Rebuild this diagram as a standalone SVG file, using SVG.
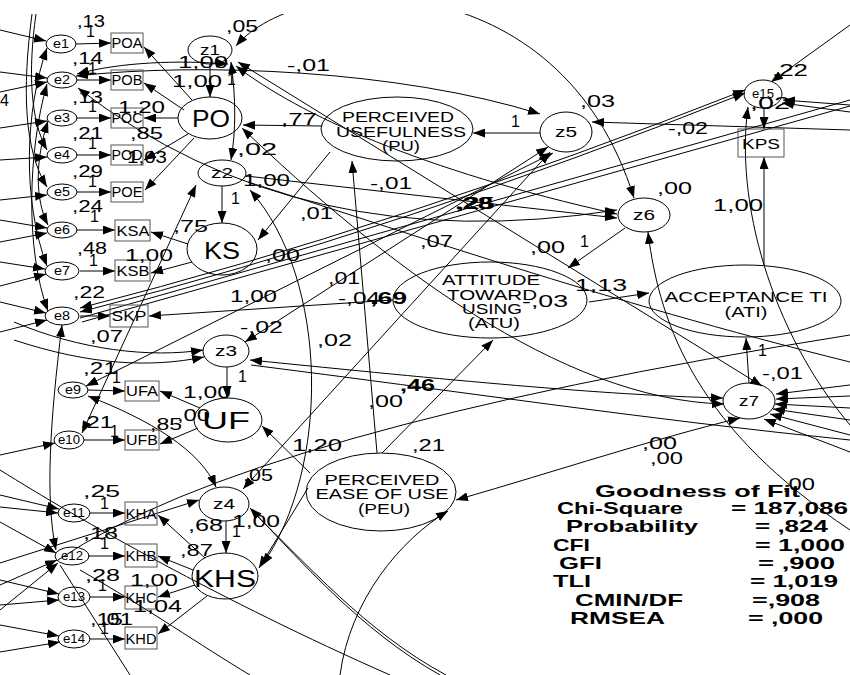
<svg xmlns="http://www.w3.org/2000/svg" width="850" height="675" viewBox="0 0 850 675">
<defs>
<marker id="a" markerWidth="12" markerHeight="9" refX="12" refY="4.5" orient="auto-start-reverse" markerUnits="userSpaceOnUse"><path d="M0,0 L12,4.5 L0,9 z" fill="#000"/></marker>
<clipPath id="clip"><rect x="0" y="14" width="850" height="661"/></clipPath>
<style>
.c{fill:none;stroke:#000;stroke-width:1}
.ar{marker-end:url(#a)}
.ab{marker-end:url(#a);marker-start:url(#a)}
.n{fill:none;stroke:#000;stroke-width:1}
.r{fill:none;stroke:#555;stroke-width:1}
text{font-family:"Liberation Sans",Arial,sans-serif;fill:#000}
.nl{font-size:15px;text-anchor:middle}
.el{font-size:12px;text-anchor:middle}
.zl{font-size:14px;text-anchor:middle}
.big{font-size:24px;text-anchor:middle}
.lt{font-size:15px;text-anchor:middle}
.v{font-size:16px}
.b{font-weight:bold}
.g{font-size:17px;font-weight:bold}
</style>
</defs>
<rect width="850" height="675" fill="#fff"/>
<g id="connectors" clip-path="url(#clip)">
<path class="c ar" d="M76,44 L111,43"/>
<path class="c ar" d="M77,80 L111,80"/>
<path class="c ar" d="M77,118 L111,118"/>
<path class="c ar" d="M77,155 L111,155"/>
<path class="c ar" d="M77,192 L111,192"/>
<path class="c ar" d="M77,230 L115,230"/>
<path class="c ar" d="M80,271 L115,271"/>
<path class="c ar" d="M80,316 L110,316"/>
<path class="c ar" d="M88,390 L125,391"/>
<path class="c ar" d="M84,440 L125,440"/>
<path class="c ar" d="M90,513 L125,513"/>
<path class="c ar" d="M88,556 L125,556"/>
<path class="c ar" d="M90,597 L125,597"/>
<path class="c ar" d="M90,639 L125,639"/>
<path class="c ar" d="M192,100 L144,47"/>
<path class="c ar" d="M184,110 L144,83"/>
<path class="c ar" d="M178,118 L144,118"/>
<path class="c ar" d="M188,134 L144,160"/>
<path class="c ar" d="M194,138 L145,190"/>
<path class="c ar" d="M210,64 L210,97"/>
<path class="c ar" d="M222,186 L222,223"/>
<path class="c ar" d="M188,244 L151,232"/>
<path class="c ar" d="M192,262 L151,273"/>
<path class="c ar" d="M227,367 L227,398"/>
<path class="c ar" d="M200,408 L160,391"/>
<path class="c ar" d="M198,428 L160,444"/>
<path class="c ar" d="M226,521 L226,553"/>
<path class="c ar" d="M205,558 L158,515"/>
<path class="c ar" d="M193,570 L158,556"/>
<path class="c ar" d="M195,585 L158,597"/>
<path class="c ar" d="M207,596 L158,634"/>
<path class="c ar" d="M393,300 L149,316"/>
<path class="c ar" d="M322,126 L243,125"/>
<path class="c ar" d="M330,152 L258,240"/>
<path class="c ar" d="M540,133 L473,133"/>
<path class="c ar" d="M377,453 L352,161"/>
<path class="c ar" d="M382,453 L493,340"/>
<path class="c ar" d="M310,473 L262,426"/>
<path class="c ar" d="M308,488 L259,568"/>
<path class="c ar" d="M625,228 L568,268"/>
<path class="c ar" d="M589,302 L649,293"/>
<path class="c ar" d="M749,383 L746,338"/>
<path class="c ar" d="M764,265 L764,157"/>
<path class="c ar" d="M764,108 L764,129"/>
<path class="c ab" d="M236,46 C300,-30 560,-40 634,198"/>
<path class="c ab" d="M76,76 C200,62 400,70 540,114"/>
<path class="c ab" d="M228,64 C180,60 120,62 77,74"/>
<path class="c ab" d="M78,88 Q300,260 617,210"/>
<path class="c ab" d="M236,66 C300,115 420,170 617,214"/>
<path class="c ar" d="M246,176 L617,218"/>
<path class="c ab" d="M231,62 C236,100 236,130 231,160"/>
<path class="c" d="M248,182 C400,230 600,300 850,362"/>
<path class="c ab" d="M245,342 L548,147"/>
<path class="c ab" d="M86,386 L553,153"/>
<path class="c ab" d="M80,312 Q400,230 745,93"/>
<path class="c ab" d="M80,308 Q400,226 745,90"/>
<path class="c" d="M80,318 L850,100"/>
<path class="c" d="M82,322 L850,106"/>
<path class="c ar" d="M850,130 L592,122"/>
<path class="c ar" d="M850,105 L783,100"/>
<path class="c ar" d="M850,112 L782,103"/>
<path class="c ar" d="M850,25 L771,82"/>
<path class="c ar" d="M850,425 C770,330 735,200 748,107"/>
<path class="c ar" d="M850,530 C700,430 660,330 648,232"/>
<path class="c ar" d="M850,385 L776,394"/>
<path class="c ar" d="M850,396 L776,399"/>
<path class="c ar" d="M850,408 L775,404"/>
<path class="c ar" d="M850,420 L773,409"/>
<path class="c ar" d="M850,435 L770,414"/>
<path class="c ar" d="M850,452 L764,419"/>
<path class="c ab" d="M238,62 L762,386"/>
<path class="c ab" d="M250,360 C450,380 600,395 723,398"/>
<path class="c" d="M251,365 C450,390 650,420 850,440"/>
<path class="c ab" d="M242,128 C380,260 560,400 724,404"/>
<path class="c ab" d="M740,418 C650,440 560,470 456,500"/>
<path class="c ar" d="M340,675 C350,600 400,540 448,511"/>
<path class="c ar" d="M440,675 C360,630 300,560 250,508"/>
<path class="c" d="M446,675 C366,632 306,563 253,512"/>
<path class="c ar" d="M14,322 C80,350 150,358 203,350"/>
<path class="c ar" d="M14,340 C90,365 150,368 204,357"/>
<path class="c ab" d="M88,396 C150,420 200,450 216,487"/>
<path class="c ab" d="M550,152 L243,489"/>
<path class="c" d="M58,560 Q250,430 850,335"/>
<path class="c ar" d="M0,563 L199,500"/>
<path class="c ab" d="M196,185 L82,433"/>
<path class="c ab" d="M250,190 C330,280 330,470 262,565"/>
<path class="c ab" d="M62,325 C50,420 45,500 56,550"/>
<path class="c" d="M80,570 C150,610 200,645 250,675"/>
<path class="c" d="M60,565 L130,675"/>
<path class="c" d="M0,470 C80,520 220,600 390,675"/>
<path class="c ar" d="M36,14 C28,70 30,120 47,150"/>
<path class="c ar" d="M32,14 C22,90 24,150 47,187"/>
<path class="c ab" d="M47,48 C25,110 22,200 47,266"/>
<path class="c ab" d="M47,84 C28,150 25,250 48,311"/>
<path class="c ab" d="M48,121 C35,160 35,200 48,225"/>
<path class="c ar" d="M0,30 L46,41"/>
<path class="c ar" d="M0,72 L47,78"/>
<path class="c ar" d="M0,92 L47,82"/>
<path class="c ar" d="M0,128 L47,121"/>
<path class="c ar" d="M0,160 L47,157"/>
<path class="c ar" d="M0,200 L47,195"/>
<path class="c ar" d="M0,220 L47,228"/>
<path class="c ar" d="M0,242 L47,233"/>
<path class="c ar" d="M0,262 L45,269"/>
<path class="c ar" d="M0,286 L46,274"/>
<path class="c ar" d="M0,302 L46,313"/>
<path class="c ar" d="M0,332 L47,320"/>
<path class="c ar" d="M0,455 L55,443"/>
<path class="c ar" d="M0,495 L59,509"/>
<path class="c ar" d="M0,507 L58,513"/>
<path class="c ar" d="M0,522 L56,553"/>
<path class="c ar" d="M0,585 L57,560"/>
<path class="c ar" d="M0,610 L58,563"/>
<path class="c ar" d="M0,580 L59,594"/>
<path class="c ar" d="M0,605 L59,600"/>
<path class="c ar" d="M0,625 L59,636"/>
<path class="c ar" d="M0,652 L60,642"/>
</g>
<g id="e1"><ellipse class="n" cx="61" cy="44" rx="15" ry="9"/><text class="el" x="61" y="48" textLength="16" lengthAdjust="spacingAndGlyphs">e1</text></g>
<g id="e2"><ellipse class="n" cx="62" cy="80" rx="15" ry="8"/><text class="el" x="62" y="84" textLength="16" lengthAdjust="spacingAndGlyphs">e2</text></g>
<g id="e3"><ellipse class="n" cx="62" cy="118" rx="15" ry="8"/><text class="el" x="62" y="122" textLength="16" lengthAdjust="spacingAndGlyphs">e3</text></g>
<g id="e4"><ellipse class="n" cx="62" cy="155" rx="15" ry="8"/><text class="el" x="62" y="159" textLength="16" lengthAdjust="spacingAndGlyphs">e4</text></g>
<g id="e5"><ellipse class="n" cx="62" cy="192" rx="15" ry="8"/><text class="el" x="62" y="196" textLength="16" lengthAdjust="spacingAndGlyphs">e5</text></g>
<g id="e6"><ellipse class="n" cx="62" cy="230" rx="15" ry="8"/><text class="el" x="62" y="234" textLength="16" lengthAdjust="spacingAndGlyphs">e6</text></g>
<g id="e7"><ellipse class="n" cx="62" cy="271" rx="17" ry="9"/><text class="el" x="62" y="275" textLength="16" lengthAdjust="spacingAndGlyphs">e7</text></g>
<g id="e8"><ellipse class="n" cx="62" cy="316" rx="17" ry="9"/><text class="el" x="62" y="320" textLength="16" lengthAdjust="spacingAndGlyphs">e8</text></g>
<g id="e9"><ellipse class="n" cx="73" cy="390" rx="15" ry="8"/><text class="el" x="73" y="394" textLength="16" lengthAdjust="spacingAndGlyphs">e9</text></g>
<g id="e10"><ellipse class="n" cx="69" cy="440" rx="15" ry="9"/><text class="el" x="69" y="444" textLength="22" lengthAdjust="spacingAndGlyphs">e10</text></g>
<g id="e11"><ellipse class="n" cx="74" cy="513" rx="16" ry="9"/><text class="el" x="74" y="517" textLength="22" lengthAdjust="spacingAndGlyphs">e11</text></g>
<g id="e12"><ellipse class="n" cx="72" cy="556" rx="17" ry="9"/><text class="el" x="72" y="560" textLength="22" lengthAdjust="spacingAndGlyphs">e12</text></g>
<g id="e13"><ellipse class="n" cx="74" cy="597" rx="16" ry="10"/><text class="el" x="74" y="601" textLength="22" lengthAdjust="spacingAndGlyphs">e13</text></g>
<g id="e14"><ellipse class="n" cx="74" cy="639" rx="16" ry="9"/><text class="el" x="74" y="643" textLength="22" lengthAdjust="spacingAndGlyphs">e14</text></g>
<g id="e15"><ellipse class="n" cx="763" cy="94" rx="19" ry="14"/><text class="el" x="763" y="98" textLength="22" lengthAdjust="spacingAndGlyphs">e15</text></g>
<g id="POA"><rect class="r" x="111" y="33" width="32" height="20"/><text class="nl" x="127" y="48" textLength="31" lengthAdjust="spacingAndGlyphs">POA</text></g>
<g id="POB"><rect class="r" x="111" y="70" width="32" height="20"/><text class="nl" x="127" y="85" textLength="31" lengthAdjust="spacingAndGlyphs">POB</text></g>
<g id="POC"><rect class="r" x="111" y="108" width="32" height="20"/><text class="nl" x="127" y="123" textLength="31" lengthAdjust="spacingAndGlyphs">POC</text></g>
<g id="POD"><rect class="r" x="111" y="145" width="32" height="20"/><text class="nl" x="127" y="160" textLength="31" lengthAdjust="spacingAndGlyphs">POD</text></g>
<g id="POE"><rect class="r" x="111" y="182" width="32" height="20"/><text class="nl" x="127" y="197" textLength="31" lengthAdjust="spacingAndGlyphs">POE</text></g>
<g id="KSA"><rect class="r" x="115" y="220" width="35" height="21"/><text class="nl" x="133" y="236" textLength="33" lengthAdjust="spacingAndGlyphs">KSA</text></g>
<g id="KSB"><rect class="r" x="115" y="260" width="35" height="21"/><text class="nl" x="133" y="276" textLength="33" lengthAdjust="spacingAndGlyphs">KSB</text></g>
<g id="SKP"><rect class="r" x="110" y="305" width="38" height="22"/><text class="nl" x="129" y="321" textLength="35" lengthAdjust="spacingAndGlyphs">SKP</text></g>
<g id="UFA"><rect class="r" x="125" y="381" width="34" height="20"/><text class="nl" x="142" y="396" textLength="32" lengthAdjust="spacingAndGlyphs">UFA</text></g>
<g id="UFB"><rect class="r" x="125" y="430" width="34" height="20"/><text class="nl" x="142" y="445" textLength="32" lengthAdjust="spacingAndGlyphs">UFB</text></g>
<g id="KHA"><rect class="r" x="125" y="502" width="32" height="23"/><text class="nl" x="141" y="519" textLength="31" lengthAdjust="spacingAndGlyphs">KHA</text></g>
<g id="KHB"><rect class="r" x="125" y="544" width="32" height="23"/><text class="nl" x="141" y="561" textLength="31" lengthAdjust="spacingAndGlyphs">KHB</text></g>
<g id="KHC"><rect class="r" x="125" y="586" width="32" height="23"/><text class="nl" x="141" y="603" textLength="31" lengthAdjust="spacingAndGlyphs">KHC</text></g>
<g id="KHD"><rect class="r" x="125" y="627" width="32" height="22"/><text class="nl" x="141" y="644" textLength="31" lengthAdjust="spacingAndGlyphs">KHD</text></g>
<g id="KPS"><rect class="r" x="738" y="129" width="46" height="28"/><text class="nl" x="761" y="149" font-size="16" textLength="38" lengthAdjust="spacingAndGlyphs">KPS</text></g>
<g id="z1"><ellipse class="n" cx="210" cy="50" rx="22" ry="14"/><text class="zl" x="210" y="55" textLength="20" lengthAdjust="spacingAndGlyphs">z1</text></g>
<g id="z2"><ellipse class="n" cx="222" cy="173" rx="24" ry="13"/><text class="zl" x="222" y="178" textLength="22" lengthAdjust="spacingAndGlyphs">z2</text></g>
<g id="z3"><ellipse class="n" cx="226" cy="351" rx="23" ry="16"/><text class="zl" x="226" y="356" textLength="22" lengthAdjust="spacingAndGlyphs">z3</text></g>
<g id="z4"><ellipse class="n" cx="224" cy="504" rx="25" ry="17"/><text class="zl" x="224" y="509" textLength="22" lengthAdjust="spacingAndGlyphs">z4</text></g>
<g id="z5"><ellipse class="n" cx="566" cy="132" rx="26" ry="20"/><text class="zl" x="566" y="137" textLength="22" lengthAdjust="spacingAndGlyphs">z5</text></g>
<g id="z6"><ellipse class="n" cx="644" cy="215" rx="26" ry="17"/><text class="zl" x="644" y="220" textLength="22" lengthAdjust="spacingAndGlyphs">z6</text></g>
<g id="z7"><ellipse class="n" cx="749" cy="401" rx="26" ry="18"/><text class="zl" x="749" y="406" textLength="20" lengthAdjust="spacingAndGlyphs">z7</text></g>
<g id="PO"><ellipse class="n" cx="210" cy="118" rx="32" ry="21"/><text class="big" x="211" y="127" textLength="38" lengthAdjust="spacingAndGlyphs">PO</text></g>
<g id="KS"><ellipse class="n" cx="222" cy="249" rx="35" ry="26"/><text class="big" x="222" y="259" textLength="36" lengthAdjust="spacingAndGlyphs">KS</text></g>
<g id="UF"><ellipse class="n" cx="228" cy="420" rx="34" ry="22"/><text class="big" x="226" y="429" font-size="25" textLength="48" lengthAdjust="spacingAndGlyphs">UF</text></g>
<g id="KHS"><ellipse class="n" cx="225" cy="576" rx="33" ry="23"/><text class="big" x="225" y="587" font-size="26" textLength="62" lengthAdjust="spacingAndGlyphs">KHS</text></g>
<g id="PU"><ellipse class="n" cx="397" cy="129" rx="76" ry="32"/><text class="lt" x="398" y="122" textLength="112" lengthAdjust="spacingAndGlyphs">PERCEIVED</text><text class="lt" x="401" y="137" textLength="130" lengthAdjust="spacingAndGlyphs">USEFULNESS</text><text class="lt" x="401" y="151" textLength="38" lengthAdjust="spacingAndGlyphs">(PU)</text></g>
<g id="ATU"><ellipse class="n" cx="490" cy="300" rx="97" ry="38"/><text class="lt" x="491" y="285" textLength="98" lengthAdjust="spacingAndGlyphs">ATTITUDE</text><text class="lt" x="492" y="300" textLength="90" lengthAdjust="spacingAndGlyphs">TOWARD</text><text class="lt" x="492" y="314" textLength="60" lengthAdjust="spacingAndGlyphs">USING</text><text class="lt" x="494" y="328" textLength="52" lengthAdjust="spacingAndGlyphs">(ATU)</text></g>
<g id="PEU"><ellipse class="n" cx="381" cy="492" rx="75" ry="39"/><text class="lt" x="382" y="485" textLength="115" lengthAdjust="spacingAndGlyphs">PERCEIVED</text><text class="lt" x="382" y="499" textLength="133" lengthAdjust="spacingAndGlyphs">EASE OF USE</text><text class="lt" x="384" y="514" textLength="52" lengthAdjust="spacingAndGlyphs">(PEU)</text></g>
<g id="ATI"><ellipse class="n" cx="745" cy="301" rx="96" ry="36"/><text class="lt" x="746" y="302" font-size="16" textLength="163" lengthAdjust="spacingAndGlyphs">ACCEPTANCE TI</text><text class="lt" x="746" y="317" font-size="16" textLength="43" lengthAdjust="spacingAndGlyphs">(ATI)</text></g>
<g id="labels" class="v">
<text x="77" y="27" textLength="28" lengthAdjust="spacingAndGlyphs">,13</text>
<text x="86" y="37">1</text>
<text x="226" y="32" textLength="32" lengthAdjust="spacingAndGlyphs">,05</text>
<text x="178" y="68" textLength="50" lengthAdjust="spacingAndGlyphs">1,00</text>
<text x="72" y="64" textLength="31" lengthAdjust="spacingAndGlyphs">,14</text>
<text x="88" y="74">1</text>
<text x="172" y="87" textLength="50" lengthAdjust="spacingAndGlyphs">1,00</text>
<text x="227" y="85">1</text>
<text x="0" y="106">4</text>
<text x="72" y="103" textLength="31" lengthAdjust="spacingAndGlyphs">,13</text>
<text x="88" y="112">1</text>
<text x="118" y="113" textLength="47" lengthAdjust="spacingAndGlyphs">1,20</text>
<text x="72" y="139" textLength="31" lengthAdjust="spacingAndGlyphs">,21</text>
<text x="88" y="149">1</text>
<text x="130" y="139" textLength="33" lengthAdjust="spacingAndGlyphs">,85</text>
<text x="127" y="163" textLength="40" lengthAdjust="spacingAndGlyphs">1,03</text>
<text x="237" y="155" textLength="40" lengthAdjust="spacingAndGlyphs">,02</text>
<text x="72" y="177" textLength="31" lengthAdjust="spacingAndGlyphs">,29</text>
<text x="88" y="187">1</text>
<text x="243" y="186" textLength="47" lengthAdjust="spacingAndGlyphs">1,00</text>
<text x="231" y="204">1</text>
<text x="72" y="212" textLength="31" lengthAdjust="spacingAndGlyphs">,24</text>
<text x="90" y="222">1</text>
<text x="173" y="232" textLength="35" lengthAdjust="spacingAndGlyphs">,75</text>
<text x="77" y="254" textLength="30" lengthAdjust="spacingAndGlyphs">,48</text>
<text x="89" y="266">1</text>
<text x="125" y="261" textLength="48" lengthAdjust="spacingAndGlyphs">1,00</text>
<text x="265" y="261" textLength="35" lengthAdjust="spacingAndGlyphs">,00</text>
<text x="73" y="298" textLength="32" lengthAdjust="spacingAndGlyphs">,22</text>
<text x="230" y="302" textLength="47" lengthAdjust="spacingAndGlyphs">1,00</text>
<text x="240" y="333" textLength="43" lengthAdjust="spacingAndGlyphs">-,02</text>
<text x="90" y="342" textLength="33" lengthAdjust="spacingAndGlyphs">,07</text>
<text x="83" y="374" textLength="34" lengthAdjust="spacingAndGlyphs">,21</text>
<text x="112" y="383">1</text>
<text x="238" y="382">1</text>
<text x="183" y="398" textLength="48" lengthAdjust="spacingAndGlyphs">1,00</text>
<text x="80" y="428" textLength="33" lengthAdjust="spacingAndGlyphs">,21</text>
<text x="110" y="437">1</text>
<text x="150" y="430" textLength="32" lengthAdjust="spacingAndGlyphs">,85</text>
<text x="177" y="421" textLength="33" lengthAdjust="spacingAndGlyphs">,00</text>
<text x="243" y="481" textLength="30" lengthAdjust="spacingAndGlyphs">,05</text>
<text x="83" y="497" textLength="37" lengthAdjust="spacingAndGlyphs">,25</text>
<text x="100" y="509">1</text>
<text x="188" y="531" textLength="35" lengthAdjust="spacingAndGlyphs">,68</text>
<text x="232" y="527" textLength="48" lengthAdjust="spacingAndGlyphs">1,00</text>
<text x="232" y="537">1</text>
<text x="83" y="539" textLength="35" lengthAdjust="spacingAndGlyphs">,18</text>
<text x="100" y="549">1</text>
<text x="180" y="556" textLength="33" lengthAdjust="spacingAndGlyphs">,87</text>
<text x="85" y="581" textLength="35" lengthAdjust="spacingAndGlyphs">,28</text>
<text x="98" y="591">1</text>
<text x="130" y="586" textLength="48" lengthAdjust="spacingAndGlyphs">1,00</text>
<text x="133" y="612" textLength="49" lengthAdjust="spacingAndGlyphs">1,04</text>
<text x="90" y="625" textLength="33" lengthAdjust="spacingAndGlyphs">,15</text>
<text x="100" y="625" textLength="33" lengthAdjust="spacingAndGlyphs">,01</text>
<text x="100" y="634">1</text>
<text x="287" y="71" textLength="43" lengthAdjust="spacingAndGlyphs">-,01</text>
<text x="281" y="125" textLength="36" lengthAdjust="spacingAndGlyphs">,77</text>
<text x="511" y="127">1</text>
<text x="370" y="189" textLength="42" lengthAdjust="spacingAndGlyphs">-,01</text>
<text class="b" x="455" y="209" textLength="38" lengthAdjust="spacingAndGlyphs">,28</text>
<text x="457" y="209" textLength="38" lengthAdjust="spacingAndGlyphs">,25</text>
<text x="300" y="219" textLength="33" lengthAdjust="spacingAndGlyphs">,01</text>
<text x="420" y="247" textLength="33" lengthAdjust="spacingAndGlyphs">,07</text>
<text x="530" y="253" textLength="35" lengthAdjust="spacingAndGlyphs">,00</text>
<text x="328" y="284" textLength="32" lengthAdjust="spacingAndGlyphs">,01</text>
<text x="338" y="304" textLength="42" lengthAdjust="spacingAndGlyphs">-,04</text>
<text class="b" x="370" y="304" textLength="37" lengthAdjust="spacingAndGlyphs">,69</text>
<text x="522" y="307" textLength="46" lengthAdjust="spacingAndGlyphs">-,03</text>
<text x="317" y="346" textLength="35" lengthAdjust="spacingAndGlyphs">,02</text>
<text class="b" x="400" y="391" textLength="35" lengthAdjust="spacingAndGlyphs">,46</text>
<text x="368" y="407" textLength="35" lengthAdjust="spacingAndGlyphs">,00</text>
<text x="292" y="451" textLength="50" lengthAdjust="spacingAndGlyphs">1,20</text>
<text x="412" y="451" textLength="33" lengthAdjust="spacingAndGlyphs">,21</text>
<text x="580" y="107" textLength="35" lengthAdjust="spacingAndGlyphs">,03</text>
<text x="772" y="76" textLength="36" lengthAdjust="spacingAndGlyphs">,22</text>
<text x="750" y="109" textLength="40" lengthAdjust="spacingAndGlyphs">,02</text>
<text x="668" y="134" textLength="40" lengthAdjust="spacingAndGlyphs">-,02</text>
<text x="657" y="194" textLength="35" lengthAdjust="spacingAndGlyphs">,00</text>
<text x="713" y="211" textLength="50" lengthAdjust="spacingAndGlyphs">1,00</text>
<text x="580" y="247">1</text>
<text x="575" y="291" textLength="52" lengthAdjust="spacingAndGlyphs">1,13</text>
<text x="758" y="356">1</text>
<text x="762" y="379" textLength="41" lengthAdjust="spacingAndGlyphs">-,01</text>
<text x="642" y="449" textLength="35" lengthAdjust="spacingAndGlyphs">,00</text>
<text x="650" y="464" textLength="33" lengthAdjust="spacingAndGlyphs">,00</text>
<text x="782" y="490" textLength="33" lengthAdjust="spacingAndGlyphs">,00</text>
</g>
<g id="fit" class="g">
<text x="595" y="497" textLength="205" lengthAdjust="spacingAndGlyphs">Goodness of Fit</text>
<text x="557" y="514" textLength="126" lengthAdjust="spacingAndGlyphs">Chi-Square</text>
<text x="731" y="514" textLength="117" lengthAdjust="spacingAndGlyphs">= 187,086</text>
<text x="566" y="532" textLength="132" lengthAdjust="spacingAndGlyphs">Probability</text>
<text x="755" y="532" textLength="73" lengthAdjust="spacingAndGlyphs">= ,824</text>
<text x="553" y="551" textLength="37" lengthAdjust="spacingAndGlyphs">CFI</text>
<text x="755" y="551" textLength="90" lengthAdjust="spacingAndGlyphs">= 1,000</text>
<text x="559" y="569" textLength="43" lengthAdjust="spacingAndGlyphs">GFI</text>
<text x="758" y="569" textLength="77" lengthAdjust="spacingAndGlyphs">= ,900</text>
<text x="553" y="587" textLength="38" lengthAdjust="spacingAndGlyphs">TLI</text>
<text x="750" y="587" textLength="88" lengthAdjust="spacingAndGlyphs">= 1,019</text>
<text x="575" y="606" textLength="108" lengthAdjust="spacingAndGlyphs">CMIN/DF</text>
<text x="752" y="606" textLength="68" lengthAdjust="spacingAndGlyphs">=,908</text>
<text x="570" y="624" textLength="95" lengthAdjust="spacingAndGlyphs">RMSEA</text>
<text x="748" y="624" textLength="75" lengthAdjust="spacingAndGlyphs">= ,000</text>
</g>
</svg>
